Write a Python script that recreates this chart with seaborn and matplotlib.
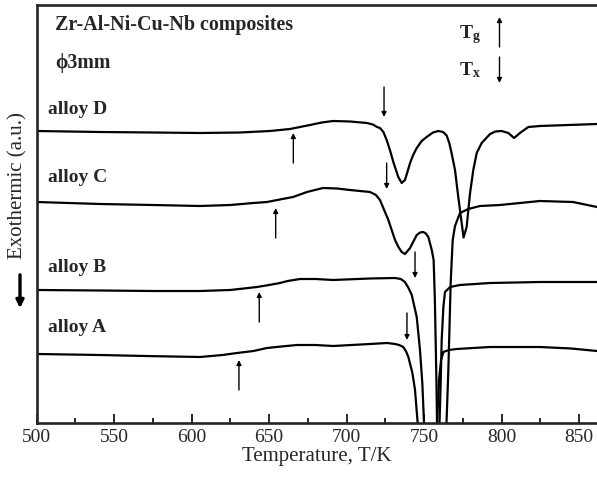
import pandas as pd
import numpy as np
import matplotlib
matplotlib.use('Agg')
import matplotlib.pyplot as plt
import seaborn as sns

# ==== DSC traces (temperature in K, heat flow in a.u.) ====
alloy_d_T = [500.3, 541, 575, 605.5, 631.3, 650.6, 657, 663.5, 670, 676.5,
             684, 691.3, 702.3, 713.2, 717, 719.7, 721.6, 723.8,
             725.9, 728, 730.2, 733.4, 735.6, 737.7, 739.3, 741, 743, 745.3,
             748.5, 751.7, 755.8, 759.2, 762.3, 764.6, 766.3,
             767.9, 770, 772.1, 774.3, 775.5, 777.5, 779.7, 781.8, 784, 787.2,
             792.6, 796, 800.1, 804.4, 808.1, 811.9, 817.3, 824.8, 861.6]
alloy_d_val = [2.92, 2.91, 2.905, 2.90, 2.905, 2.92, 2.93, 2.94, 2.96, 2.98,
               3.005, 3.02, 3.015, 3.00, 2.985, 2.96, 2.95, 2.91,
               2.83, 2.73, 2.61, 2.46, 2.40, 2.43, 2.51, 2.60, 2.68, 2.75,
               2.82, 2.86, 2.905, 2.92, 2.91, 2.875, 2.80,
               2.69, 2.53, 2.26, 2.00, 1.855, 1.96, 2.30, 2.53, 2.70, 2.80,
               2.89, 2.915, 2.92, 2.90, 2.85, 2.90, 2.96, 2.97, 2.99]

alloy_c_T = [500.3, 541, 575, 605.5, 625, 640, 648.7, 657, 665.5, 674.5,
             684.8, 694, 702.3, 715.2, 719, 721.6, 724, 727, 731.3, 733.5,
             735.6, 737.7, 741, 745.3, 747.5, 749.5, 751.2, 752.8, 755,
             756.2, 757, 757.5, 758, 758.4, 761, 764.5, 765.7, 767.2, 768.5,
             770, 773.2, 778.5, 786.1, 799, 824.8, 846.1, 861.6]
alloy_c_val = [2.21, 2.19, 2.18, 2.17, 2.18, 2.20, 2.21, 2.235, 2.26, 2.31,
               2.35, 2.345, 2.33, 2.31, 2.28, 2.23, 2.14, 2.03, 1.83, 1.76,
               1.71, 1.69, 1.75, 1.88, 1.905, 1.91, 1.895, 1.86, 1.73,
               1.63, 1.23, 0.83, 0.43, 0.0, -0.57, 0.0, 0.53, 1.40, 1.83,
               1.97, 2.10, 2.14, 2.17, 2.18, 2.22, 2.21, 2.16]

alloy_b_T = [500.3, 541, 575, 605.5, 625, 642.3, 650, 657.1, 662, 670, 680,
             691.3, 715.2, 731.3, 735, 737.7, 740, 742.1, 745.3, 747.4, 748.9,
             750, 755.2, 760, 760.8, 761.4, 762.5, 763.5, 766.8, 773.2, 792.6,
             824.8, 861.6]
alloy_b_val = [1.33, 1.325, 1.32, 1.32, 1.33, 1.36, 1.38, 1.40, 1.42, 1.44,
               1.44, 1.43, 1.445, 1.45, 1.44, 1.41, 1.35, 1.28, 1.06, 0.73,
               0.40, 0.0, -0.47, 0.0, 0.43, 0.83, 1.16, 1.31, 1.36, 1.38, 1.40,
               1.41, 1.41]

alloy_a_T = [500.3, 541, 570, 605.5, 620, 629.4, 640, 648.7, 658, 668, 680,
             691.3, 715.2, 726.1, 731.3, 734, 736.6, 738.3, 739.9, 742.5,
             744.2, 745.9, 751.9, 758.4, 759.7, 761, 762.5, 766, 771.1, 792.6,
             824.8, 845, 861.6]
alloy_a_val = [0.69, 0.68, 0.67, 0.66, 0.68, 0.70, 0.72, 0.75, 0.765, 0.78,
               0.78, 0.77, 0.79, 0.80, 0.79, 0.78, 0.76, 0.72, 0.66, 0.50,
               0.33, 0.0, -0.47, 0.0, 0.43, 0.63, 0.71, 0.73, 0.74, 0.76,
               0.76, 0.745, 0.72]

alloy_names = ["alloy D", "alloy C", "alloy B", "alloy A"]
label_y = [3.13, 2.45, 1.56, 0.95]

# Tg (up arrows) and Tx (down arrows): temperature, tail, tip
tg_T = [665.7, 654.3, 643.7, 630.6]
tg_tail = [2.60, 1.85, 1.01, 0.33]
tg_tip = [2.90, 2.15, 1.31, 0.63]
tx_T = [724.2, 725.9, 744.2, 739.0]
tx_tail = [3.36, 2.60, 1.71, 1.10]
tx_tip = [3.06, 2.34, 1.45, 0.83]

frames = []
for name, T, v in zip(alloy_names,
                      [alloy_d_T, alloy_c_T, alloy_b_T, alloy_a_T],
                      [alloy_d_val, alloy_c_val, alloy_b_val, alloy_a_val]):
    frames.append(pd.DataFrame({"alloy": name, "T": T, "signal": v}))
df = pd.concat(frames, ignore_index=True)

# ==== Style ====
sns.set_style("ticks")
plt.rcParams["font.family"] = ["Liberation Serif", "DejaVu Serif"]
plt.rcParams["mathtext.fontset"] = "custom"
plt.rcParams["mathtext.rm"] = "Liberation Serif"
plt.rcParams["mathtext.bf"] = "Liberation Serif:bold"
plt.rcParams["mathtext.it"] = "Liberation Serif:italic"

fig = plt.figure(figsize=(5.97, 4.79), dpi=100)
ax = fig.add_axes([36.5 / 597, 56 / 479, 1 - 36.5 / 597, 418 / 479])

sns.lineplot(data=df, x="T", y="signal", units="alloy", estimator=None,
             sort=False, color="black", linewidth=1.6, ax=ax)

ax.set_xlim(500, 861.6)
ax.set_ylim(0, 4.18)
ax.set_xticks(np.arange(500, 851, 50))
ax.set_xticks(np.arange(525, 851, 50), minor=True)
ax.set_yticks([])
ax.tick_params(axis="x", which="major", direction="in", length=6.8, width=1.4,
               labelsize=14, pad=4)
ax.tick_params(axis="x", which="minor", direction="in", length=3.3, width=1.4)
for side in ["left", "bottom", "top"]:
    ax.spines[side].set_linewidth(1.9)
ax.spines["right"].set_visible(False)

ax.set_xlabel("Temperature, T/K", fontsize=15, labelpad=1)
ax.set_ylabel("")
fig.text(18 / 597, 1 - 186 / 479, "Exothermic (a.u.)", rotation=90,
         fontsize=15, ha="center", va="center")
fig.add_artist(matplotlib.patches.FancyArrowPatch(
    (20 / 597, 1 - 272 / 479), (20 / 597, 1 - 311 / 479),
    transform=fig.transFigure, arrowstyle="-|>", mutation_scale=11,
    linewidth=2.4, color="black"))

# ==== Annotations ====
ax.text(511.9, 3.98, "Zr-Al-Ni-Cu-Nb composites", fontsize=14.4,
        fontweight="bold", ha="left", va="center")
ax.text(511.9, 3.60, "ϕ3mm", fontsize=14.4, fontweight="bold",
        ha="left", va="center")
for name, yy in zip(alloy_names, label_y):
    ax.text(507.4, yy, name, fontsize=14, fontweight="bold",
            ha="left", va="center")

arrow_kw = dict(arrowstyle="-|>", mutation_scale=7, linewidth=1.0,
                color="black", shrinkA=0, shrinkB=0)
for T, lo, hi in zip(tg_T, tg_tail, tg_tip):
    ax.annotate("", xy=(T, hi), xytext=(T, lo), arrowprops=arrow_kw)
for T, lo, hi in zip(tx_T, tx_tail, tx_tip):
    ax.annotate("", xy=(T, hi), xytext=(T, lo), arrowprops=arrow_kw)

# legend for the arrows
ax.text(779.5, 3.88, r"$\mathbf{T_g}$", fontsize=14, ha="center", va="center")
ax.text(779.5, 3.53, r"$\mathbf{T_x}$", fontsize=14, ha="center", va="center")
ax.annotate("", xy=(798.7, 4.06), xytext=(798.7, 3.76), arrowprops=arrow_kw)
ax.annotate("", xy=(798.7, 3.40), xytext=(798.7, 3.66), arrowprops=arrow_kw)

fig.savefig("out.png", dpi=100)
